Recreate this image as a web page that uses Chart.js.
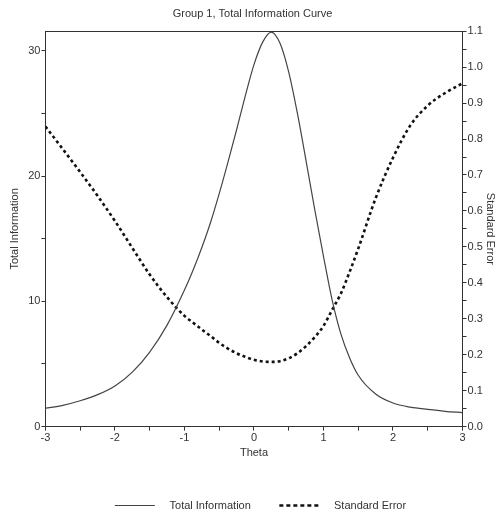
<!DOCTYPE html>
<html>
<head>
<meta charset="utf-8">
<script src="https://cdn.jsdelivr.net/npm/chart.js@4/dist/chart.umd.min.js"></script>
<style>
    body { margin: 0; background: #fff; }
    #wrap { width: 497px; height: 511px; }
</style>
</head>
<body>
<div id="wrap"><canvas id="chartInfo" width="497" height="511"></canvas></div>
<script>
// 数据 (theta 点, 信息量, 标准误)
let thetaPoints = [-3, -2.75, -2.5, -2.25, -2, -1.75, -1.5, -1.25, -1, -0.875, -0.75, -0.625, -0.5, -0.375, -0.25, -0.125,
    0, 0.125, 0.25, 0.375, 0.5, 0.625, 0.75, 0.875, 1, 1.125, 1.25, 1.375, 1.5, 1.75, 2, 2.25, 2.5, 2.75, 3];
let totalInformation = [1.47, 1.7, 2.06, 2.55, 3.25, 4.35, 5.95, 8.1, 10.9, 12.5, 14.3, 16.3, 18.6, 21.1, 23.7, 26.4,
    28.9, 30.7, 31.5, 30.6, 28.3, 25.0, 21.2, 17.3, 13.6, 10.1, 7.4, 5.5, 4.1, 2.6, 1.88, 1.55, 1.37, 1.22, 1.12];
let standardError = [0.835, 0.772, 0.708, 0.642, 0.572, 0.497, 0.423, 0.36, 0.308, 0.289, 0.27, 0.252, 0.233, 0.217, 0.204, 0.194,
    0.186, 0.181, 0.18, 0.182, 0.19, 0.204, 0.224, 0.249, 0.28, 0.325, 0.37, 0.43, 0.495, 0.635, 0.748, 0.838, 0.893, 0.928, 0.955];
let xTickLabels = [-3, -2, -1, 0, 1, 2, 3];

const FONT = 'Liberation Sans, Arial, sans-serif';
const INK = '#333';

function toPoints(ys) {
    return thetaPoints.map((t, i) => ({ x: t, y: ys[i] }));
}

// 图例整体右移一点
const legendShift = {
    id: 'legendShift',
    afterLayout(chart) {
        if (chart.legend) { chart.legend.left += 8; chart.legend.right += 8; }
    }
};

let config_chartInfo = {
    type: 'line',
    data: {
        datasets: [
            { label: 'Total Information', data: toPoints(totalInformation), yAxisID: 'yL',
              borderColor: '#444', borderWidth: 1.2, pointRadius: 0, cubicInterpolationMode: 'monotone' },
            { label: 'Standard Error', data: toPoints(standardError), yAxisID: 'yR',
              borderColor: '#111', borderWidth: 2.6, borderDash: [3, 3], pointRadius: 0, cubicInterpolationMode: 'monotone' }
        ]
    },
    options: {
        responsive: false,
        animation: false,
        layout: { padding: { left: 8, right: 0, top: 0, bottom: -10 } },
        font: { family: FONT, size: 11 },
        plugins: {
            title: { display: true, text: 'Group 1, Total Information Curve', color: INK,
                     font: { family: FONT, size: 11, weight: 'normal' }, padding: { top: 7, bottom: 3 } },
            legend: {
                position: 'bottom',
                labels: {
                    color: INK, font: { family: FONT, size: 11 }, usePointStyle: true,
                    pointStyle: 'line', pointStyleWidth: 40, boxHeight: 6, padding: 1,
                    generateLabels: chart => Chart.defaults.plugins.legend.labels.generateLabels(chart).map((item, i) => {
                        const ds = chart.data.datasets[i];
                        return Object.assign(item, {
                            text: '   ' + ds.label + (i === 0 ? '         ' : ''),
                            lineDash: i === 1 ? [4, 3] : [],
                            lineWidth: ds.borderWidth, strokeStyle: ds.borderColor, pointStyle: 'line'
                        });
                    })
                }
            },
            tooltip: { enabled: false }
        },
        scales: {
            x: {
                type: 'linear', position: 'bottom', min: -3, max: 3,
                ticks: { stepSize: 0.5, color: INK, font: { family: FONT, size: 11 }, padding: 1,
                         callback: v => xTickLabels.includes(v) ? String(v) : '' },
                grid: { drawOnChartArea: false, tickLength: 4, color: INK },
                border: { color: INK, width: 1 },
                title: { display: true, text: 'Theta', color: INK, font: { family: FONT, size: 11 }, padding: { top: 1, bottom: 39 } }
            },
            x2: {
                type: 'linear', position: 'top', min: -3, max: 3,
                ticks: { display: false },
                grid: { display: false },
                border: { color: INK, width: 1 }
            },
            yL: {
                type: 'linear', position: 'left', min: 0, max: 31.57,
                afterBuildTicks: scale => { scale.ticks = scale.ticks.filter(t => Math.abs(t.value % 5) < 1e-6); },
                ticks: { stepSize: 5, color: INK, font: { family: FONT, size: 11 }, padding: 1,
                         callback: v => (v % 10 === 0 ? String(v) : '') },
                grid: { drawOnChartArea: false, tickLength: 4, color: INK },
                border: { color: INK, width: 1 },
                title: { display: true, text: 'Total Information', color: INK, font: { family: FONT, size: 11 }, padding: { top: 0, bottom: 6 } }
            },
            yR: {
                type: 'linear', position: 'right', min: 0, max: 1.1,
                ticks: { stepSize: 0.05, color: INK, font: { family: FONT, size: 11 }, padding: 1,
                         callback: v => (Math.round(v * 100) % 10 === 0 ? v.toFixed(1) : '') },
                grid: { drawOnChartArea: false, tickLength: 4, color: INK },
                border: { color: INK, width: 1 },
                title: { display: true, text: 'Standard Error', color: INK, font: { family: FONT, size: 11 }, padding: { top: 0, bottom: 0 } }
            }
        }
    },
    plugins: [legendShift]
};

let chartInfo = new Chart(document.getElementById('chartInfo'), config_chartInfo);
</script>
</body>
</html>
